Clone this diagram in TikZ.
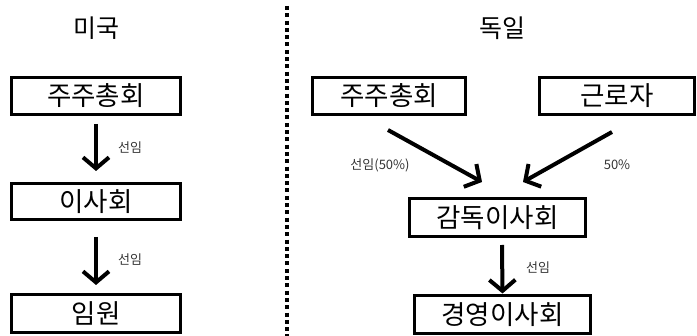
\documentclass[tikz,border=0pt]{standalone}
\usepackage{fontspec}
\newfontfamily\kr{Noto Sans CJK KR}
\usetikzlibrary{arrows.meta}
\tikzset{
  box/.style={draw=black, line width=3pt, inner sep=0pt, font=\kr\fontsize{26.5}{28}\selectfont},
  arr/.style={line width=4pt, -{Straight Barb[length=11pt,width=26pt,line width=4pt]}},
  lbl/.style={font=\kr\fontsize{13}{14}\selectfont, text=black!80},
  ttl/.style={font=\kr\fontsize{25}{26}\selectfont}
}
\begin{document}
\begin{tikzpicture}[x=1pt,y=-1pt]
\useasboundingbox (0,0) rectangle (697,336);
% titles
\node[ttl] (t1) at (96,28) {미국};
\node[ttl] (t2) at (502,28) {독일};
% divider
\coordinate (d1) at (287,6);
\coordinate (d2) at (287,336);
\draw[line width=4pt, dash pattern=on 4pt off 3.3pt] (d1) -- (d2);
% left
\node[box, minimum width=169pt, minimum height=37pt] (a1) at (96,96) {주주총회};
\node[box, minimum width=169pt, minimum height=36pt] (a2) at (96,201.5) {이사회};
\node[box, minimum width=169pt, minimum height=38pt] (a3) at (96,313.5) {임원};
\draw[arr] ([yshift=-8pt]a1.south) -- ([yshift=11pt]a2.north);
\draw[arr] ([yshift=-16pt]a2.south) -- ([yshift=8pt]a3.north);
\node[lbl] (l1) at (130,148) {선임};
\node[lbl] (l2) at (130,260) {선임};
% right
\node[box, minimum width=153pt, minimum height=37pt] (b1) at (389,96) {주주총회};
\node[box, minimum width=155pt, minimum height=37pt] (b2) at (617,96) {근로자};
\node[box, minimum width=176pt, minimum height=38pt] (b3) at (497.5,217.5) {감독이사회};
\node[box, minimum width=176pt, minimum height=38pt] (b4) at (502.5,315) {경영이사회};
\draw[arr] ([xshift=-1pt,yshift=-14pt]b1.south) -- ([xshift=-15.5pt,yshift=15pt]b3.north);
\draw[arr] ([xshift=-5pt,yshift=-16pt]b2.south) -- ([xshift=25.5pt,yshift=15pt]b3.north);
\draw[arr] ([xshift=4.5pt,yshift=-7pt]b3.south) -- ([yshift=1pt]b4.north);
\node[lbl] (l3) at (380,165) {선임(50\%)};
\node[lbl] (l4) at (617,165) {50\%};
\node[lbl] (l5) at (538,268) {선임};
\end{tikzpicture}
\end{document}
